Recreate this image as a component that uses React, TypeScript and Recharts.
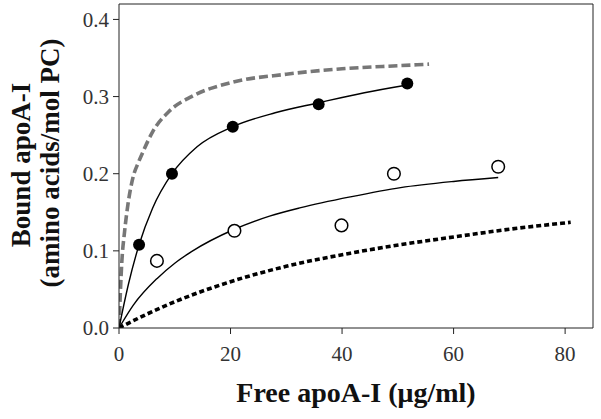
import {
  ComposedChart,
  Line,
  Scatter,
  XAxis,
  YAxis,
  ReferenceLine,
} from 'recharts';

// measured binding, filled circles
const filledX = [3.6, 9.5, 20.4, 35.8, 51.7];
const filledY = [0.108, 0.2, 0.261, 0.29, 0.317];

// measured binding, open circles
const openX = [6.8, 20.7, 39.9, 49.3, 68.0];
const openY = [0.087, 0.126, 0.133, 0.2, 0.209];

// fitted curve through filled circles
const fitFilledX = [0, 1.7, 3.6, 6, 9.5, 14, 20.4, 28, 35.8, 44, 51.7];
const fitFilledY = [0, 0.057, 0.108, 0.155, 0.2, 0.235, 0.261, 0.279, 0.292, 0.305, 0.315];

// fitted curve through open circles
const fitOpenX = [0, 2.6, 6.8, 10, 13, 20.7, 27, 32.6, 41.5, 50.5, 60, 68];
const fitOpenY = [0, 0.03, 0.064, 0.084, 0.099, 0.128, 0.145, 0.156, 0.17, 0.182, 0.19, 0.195];

// grey dashed curve
const greyX = [0, 0.5, 1, 1.6, 2.5, 3.5, 4.4, 6, 9, 13, 20, 30, 40, 50, 55.6];
const greyY = [0, 0.085, 0.125, 0.16, 0.195, 0.215, 0.23, 0.254, 0.281, 0.3, 0.318, 0.329, 0.336, 0.34, 0.342];

// black dotted curve
const dottedX = [0, 5, 10, 20, 30, 41.5, 50.5, 60, 70, 81];
const dottedY = [0, 0.018, 0.034, 0.06, 0.08, 0.097, 0.108, 0.118, 0.128, 0.137];

const xTicks = [0, 20, 40, 60, 80];
const yTicks = [0, 0.1, 0.2, 0.3, 0.4];

const pairs = (xs: number[], ys: number[]) => xs.map((x, i) => ({ x, y: ys[i] }));

const serif = "Liberation Serif";

function renderXTick(p: any) {
  return (
    <text
      x={p.x}
      y={p.y}
      dy="0.71em"
      textAnchor="middle"
      style={{ fontFamily: serif, fontSize: 21, fill: '#333' }}
    >
      {p.payload.value}
    </text>
  );
}

function renderYTick(p: any) {
  return (
    <text
      x={p.x}
      y={p.y}
      dy="0.35em"
      textAnchor="end"
      style={{ fontFamily: serif, fontSize: 21, fill: '#333' }}
    >
      {Number(p.payload.value).toFixed(1)}
    </text>
  );
}

function YLabel() {
  return (
    <g style={{ fontFamily: serif, fontWeight: 'bold', fontSize: 27, fill: '#111' }}>
      <text transform="translate(30,165) rotate(-90)" textAnchor="middle">
        Bound apoA-I
      </text>
      <text transform="translate(59,163) rotate(-90)" textAnchor="middle">
        (amino acids/mol PC)
      </text>
    </g>
  );
}

export default function App() {
  return (
    <div style={{ position: 'absolute', left: 0, top: 0, background: '#fff', fontFamily: serif }}>
      <ComposedChart
        width={601}
        height={419}
        margin={{ top: 4, right: 8, bottom: 0, left: 0 }}
      >
        <XAxis
          type="number"
          dataKey="x"
          domain={[0, 85]}
          ticks={xTicks}
          allowDataOverflow
          height={91}
          tickSize={6}
          tickMargin={12}
          stroke="#222"
          fontFamily={serif}
          fontSize={21}
          tick={renderXTick}
          label={{
            value: 'Free apoA-I (\u03bcg/ml)',
            position: 'insideBottom',
            offset: 17,
            style: { fontFamily: serif, fontWeight: 'bold', fontSize: 28, fill: '#111' },
          }}
        />
        <YAxis
          type="number"
          dataKey="y"
          domain={[0, 0.42]}
          ticks={yTicks}
          allowDataOverflow
          width={119}
          tickSize={6}
          tickMargin={4}
          stroke="#222"
          fontFamily={serif}
          fontSize={21}
          tick={renderYTick}
          label={{ content: () => <YLabel /> }}
        />
        <ReferenceLine y={0.42} stroke="#222" strokeWidth={1} />
        <ReferenceLine x={85} stroke="#222" strokeWidth={1} />
        <Line
          data={pairs(greyX, greyY)}
          dataKey="y"
          type="monotone"
          stroke="#777"
          strokeWidth={3.6}
          strokeDasharray="9 4"
          dot={false}
          isAnimationActive={false}
        />
        <Line
          data={pairs(dottedX, dottedY)}
          dataKey="y"
          type="monotone"
          stroke="#000"
          strokeWidth={3.6}
          strokeDasharray="5 3"
          dot={false}
          isAnimationActive={false}
        />
        <Line
          data={pairs(fitFilledX, fitFilledY)}
          dataKey="y"
          type="monotone"
          stroke="#000"
          strokeWidth={1.4}
          dot={false}
          isAnimationActive={false}
        />
        <Line
          data={pairs(fitOpenX, fitOpenY)}
          dataKey="y"
          type="monotone"
          stroke="#000"
          strokeWidth={1.4}
          dot={false}
          isAnimationActive={false}
        />
        <Scatter
          data={pairs(filledX, filledY)}
          isAnimationActive={false}
          shape={(p: any) => <circle cx={p.cx} cy={p.cy} r={6} fill="#000" />}
        />
        <Scatter
          data={pairs(openX, openY)}
          isAnimationActive={false}
          shape={(p: any) => (
            <circle cx={p.cx} cy={p.cy} r={6.3} fill="#fff" stroke="#000" strokeWidth={1.5} />
          )}
        />
      </ComposedChart>
    </div>
  );
}
